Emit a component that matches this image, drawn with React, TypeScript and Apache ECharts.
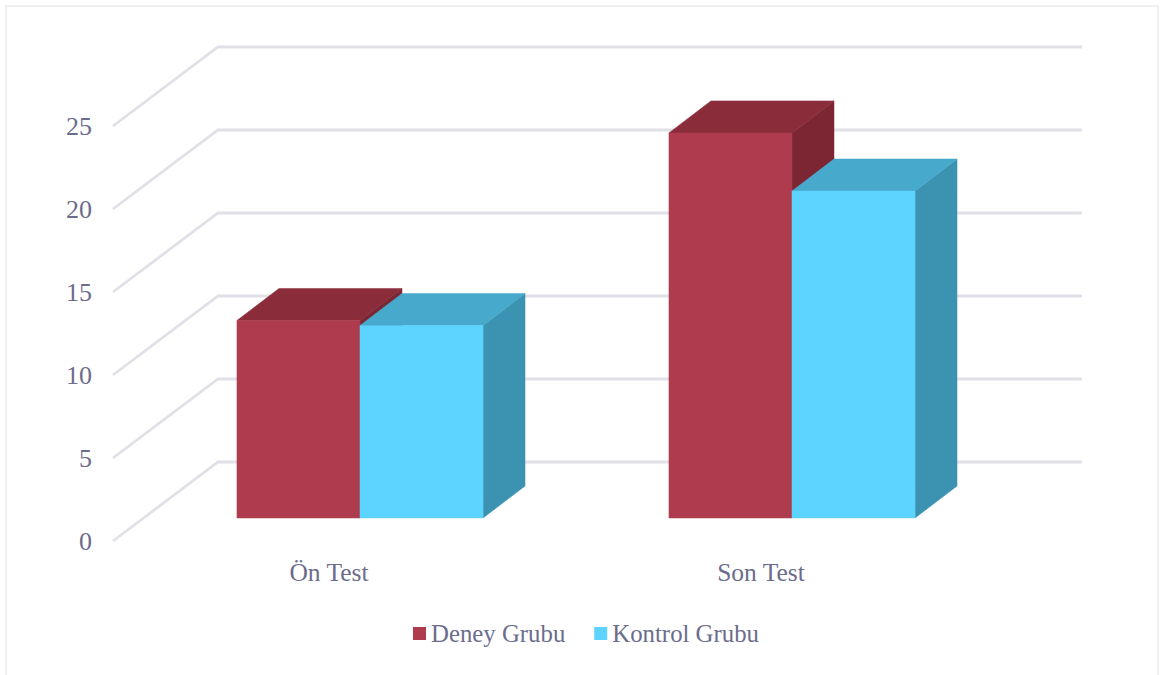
import React, { useEffect, useRef } from "react";
import * as echarts from "echarts";

const categories = ["Ön Test", "Son Test"];
const deneyGrubu = [11.9, 23.2];
const kontrolGrubu = [11.6, 19.7];
const gridTicks = [0, 5, 10, 15, 20, 25];

const FONT = "'Liberation Serif', serif";
const TEXT_COLOR = "#6c6c8c";
const LINE_COLOR = "#e0e0e7";

// Oblique projection of the box: wall depth, bar depth and the floor inset of the bars.
const WALL_DX = 105;
const WALL_DY = 79;
const BAR_DX = 42;
const BAR_DY = 32;
const FLOOR_DX = 31;
const FLOOR_DY = 23;
const BAR_BAND_RATIO = 0.2848;

type Faces = { front: string; top: string; side: string };

function barRenderer(faces: Faces, direction: number) {
  return (_params: any, api: any) => {
    const band = api.size([1, 0])[0];
    const w = band * BAR_BAND_RATIO;
    const centre = api.coord([api.value(0), 0]);
    const top = api.coord([api.value(0), api.value(1)]);
    const x0 = centre[0] + FLOOR_DX + (direction < 0 ? -w : 0);
    const x1 = x0 + w;
    const yBase = centre[1] - FLOOR_DY;
    const yTop = top[1] - FLOOR_DY;
    const poly = (points: number[][], fill: string) => ({
      type: "polygon",
      shape: { points },
      style: { fill, stroke: fill, lineWidth: 0.5 },
    });
    return {
      type: "group",
      children: [
        poly(
          [[x1, yBase], [x1 + BAR_DX, yBase - BAR_DY], [x1 + BAR_DX, yTop - BAR_DY], [x1, yTop]],
          faces.side
        ),
        poly(
          [[x0, yTop], [x0 + BAR_DX, yTop - BAR_DY], [x1 + BAR_DX, yTop - BAR_DY], [x1, yTop]],
          faces.top
        ),
        poly([[x0, yBase], [x1, yBase], [x1, yTop], [x0, yTop]], faces.front),
      ],
    };
  };
}

function wallRenderer(params: any, api: any) {
  const sys = params.coordSys;
  const y = api.coord([0, api.value(1)])[1];
  const x = sys.x;
  const backRight = x + sys.width + WALL_DX;
  return {
    type: "polyline",
    shape: {
      points: [
        [x, y],
        [x + WALL_DX, y - WALL_DY],
        [backRight, y - WALL_DY],
      ],
    },
    style: { fill: "none", stroke: LINE_COLOR, lineWidth: 2.8 },
  };
}

export default function App() {
  const ref = useRef<HTMLDivElement>(null);

  useEffect(() => {
    if (!ref.current) return;
    const chart = echarts.init(ref.current, undefined, { renderer: "svg" });
    chart.setOption({
      animation: false,
      backgroundColor: "#ffffff",
      textStyle: { fontFamily: FONT },
      graphic: [
        {
          type: "rect",
          silent: true,
          z: -1,
          shape: { x: 6, y: 6, width: 1152, height: 680 },
          style: { fill: "#ffffff", stroke: "#e9e9ef", lineWidth: 1.5 },
        },
      ],
      grid: { left: 113, right: 187, top: 126, bottom: 134 },
      legend: {
        data: ["Deney Grubu", "Kontrol Grubu"],
        left: 413,
        top: 621,
        padding: 0,
        itemWidth: 13,
        itemHeight: 13,
        itemGap: 29,
        icon: "rect",
        textStyle: { color: TEXT_COLOR, fontSize: 24.8, fontFamily: FONT },
      },
      xAxis: {
        type: "category",
        data: categories,
        axisLine: { show: false },
        axisTick: { show: false },
        axisLabel: { color: TEXT_COLOR, fontSize: 25.5, fontFamily: FONT, margin: 18 },
      },
      yAxis: {
        type: "value",
        min: 0,
        max: 25,
        interval: 5,
        splitLine: { show: false },
        axisLine: { show: false },
        axisTick: { show: false },
        axisLabel: {
          color: TEXT_COLOR,
          fontSize: 26,
          fontFamily: FONT,
          margin: 21,
          padding: [5, 0, 0, 0],
        },
      },
      series: [
        {
          type: "custom",
          name: "walls",
          silent: true,
          renderItem: wallRenderer,
          encode: { x: 0, y: 1 },
          data: gridTicks.map((t) => [0, t]),
          z: 1,
        },
        {
          type: "custom",
          name: "Deney Grubu",
          silent: true,
          itemStyle: { color: "#ae3c4e" },
          renderItem: barRenderer({ front: "#ae3c4e", top: "#8a2c3a", side: "#7c2533" }, -1),
          encode: { x: 0, y: 1 },
          data: deneyGrubu.map((v, i) => [i, v]),
          z: 2,
        },
        {
          type: "custom",
          name: "Kontrol Grubu",
          silent: true,
          itemStyle: { color: "#5dd3ff" },
          renderItem: barRenderer({ front: "#5dd3ff", top: "#47a9cb", side: "#3c93b1" }, 1),
          encode: { x: 0, y: 1 },
          data: kontrolGrubu.map((v, i) => [i, v]),
          z: 3,
        },
      ],
    });
    return () => chart.dispose();
  }, []);

  return (
    <div
      ref={ref}
      style={{ position: "absolute", left: 0, top: 0, width: 1164, height: 675 }}
    />
  );
}
